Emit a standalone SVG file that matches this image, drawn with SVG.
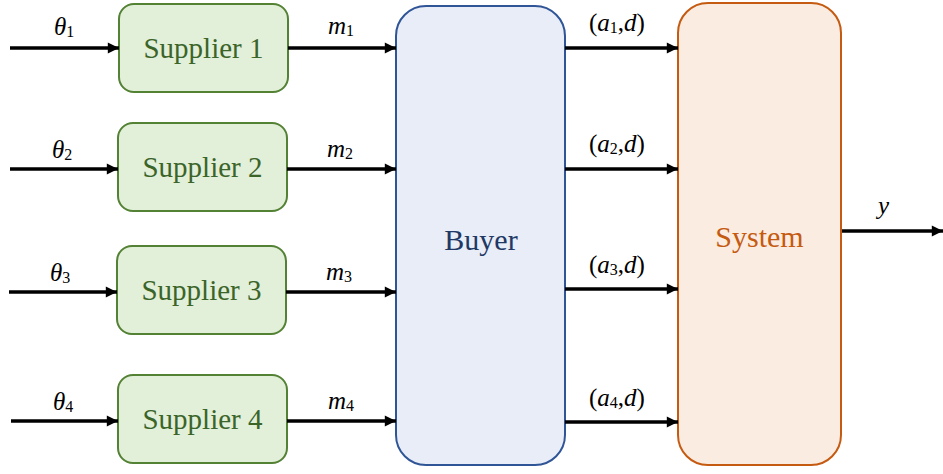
<svg xmlns="http://www.w3.org/2000/svg" width="943" height="474" viewBox="0 0 943 474">
<defs>
<marker id="ah" viewBox="0 0 10 10" refX="10" refY="5" markerWidth="4" markerHeight="3.2" markerUnits="strokeWidth" orient="auto">
<path d="M0,0 L10,5 L0,10 z" fill="#000"/>
</marker>
<style>
.sup rect{fill:#e2efd9;stroke:#548235;stroke-width:2}
.sup text{fill:#3b6429;font-family:"Liberation Serif",serif;font-size:29px;text-anchor:middle}
.conn line{stroke:#000;stroke-width:3.5;marker-end:url(#ah)}
.lbl{font-family:"Liberation Serif",serif;font-style:italic;font-size:25px;fill:#000}
.sub{font-size:16px;font-style:normal}
</style>
</defs>
<rect width="943" height="474" fill="#fff"/>
<g id="supplier1" class="sup"><rect x="119" y="4" width="169" height="88" rx="15"/><text x="203.5" y="58">Supplier 1</text></g>
<g id="supplier2" class="sup"><rect x="118" y="123" width="169" height="88" rx="15"/><text x="202.5" y="177">Supplier 2</text></g>
<g id="supplier3" class="sup"><rect x="117" y="246" width="169" height="88" rx="15"/><text x="201.5" y="300">Supplier 3</text></g>
<g id="supplier4" class="sup"><rect x="118" y="375" width="169" height="88" rx="15"/><text x="202.5" y="429">Supplier 4</text></g>
<g id="buyer"><rect x="396" y="6" width="169" height="459" rx="30" fill="#e8edf8" stroke="#2f5597" stroke-width="2"/><text x="481" y="250" font-family="Liberation Serif, serif" font-size="30" fill="#1f3864" text-anchor="middle">Buyer</text></g>
<g id="system"><rect x="678" y="3" width="163" height="462" rx="30" fill="#fbece1" stroke="#c55a11" stroke-width="2"/><text x="759.5" y="247" font-family="Liberation Serif, serif" font-size="30" fill="#c55a11" text-anchor="middle">System</text></g>
<g id="connectors" class="conn">
<line x1="10" y1="48" x2="119" y2="48"/>
<line x1="10" y1="169" x2="118" y2="169"/>
<line x1="9" y1="292" x2="117" y2="292"/>
<line x1="11" y1="421" x2="118" y2="421"/>
<line x1="288" y1="48" x2="396" y2="48"/>
<line x1="287" y1="169" x2="396" y2="169"/>
<line x1="286" y1="292" x2="396" y2="292"/>
<line x1="287" y1="421" x2="396" y2="421"/>
<line x1="565" y1="48" x2="678" y2="48"/>
<line x1="565" y1="169" x2="678" y2="169"/>
<line x1="565" y1="289" x2="678" y2="289"/>
<line x1="565" y1="422" x2="678" y2="422"/>
<line x1="842" y1="231" x2="943" y2="231"/>
</g>
<g id="labels" class="lbl">
<text x="54" y="35">θ<tspan class="sub" dy="2">1</tspan></text>
<text x="52" y="158">θ<tspan class="sub" dy="2">2</tspan></text>
<text x="50" y="281">θ<tspan class="sub" dy="2">3</tspan></text>
<text x="53" y="410">θ<tspan class="sub" dy="2">4</tspan></text>
<text x="328" y="34">m<tspan class="sub" dy="2">1</tspan></text>
<text x="327" y="157">m<tspan class="sub" dy="2">2</tspan></text>
<text x="326" y="280">m<tspan class="sub" dy="2">3</tspan></text>
<text x="328" y="409">m<tspan class="sub" dy="2">4</tspan></text>
<text x="589" y="31"><tspan font-style="normal">(</tspan>a<tspan class="sub" dy="2">1</tspan><tspan dy="-2" font-style="normal">,</tspan>d<tspan font-style="normal">)</tspan></text>
<text x="589" y="152"><tspan font-style="normal">(</tspan>a<tspan class="sub" dy="2">2</tspan><tspan dy="-2" font-style="normal">,</tspan>d<tspan font-style="normal">)</tspan></text>
<text x="589" y="273"><tspan font-style="normal">(</tspan>a<tspan class="sub" dy="2">3</tspan><tspan dy="-2" font-style="normal">,</tspan>d<tspan font-style="normal">)</tspan></text>
<text x="589" y="406"><tspan font-style="normal">(</tspan>a<tspan class="sub" dy="2">4</tspan><tspan dy="-2" font-style="normal">,</tspan>d<tspan font-style="normal">)</tspan></text>
<text x="878" y="214">y</text>
</g>
</svg>
